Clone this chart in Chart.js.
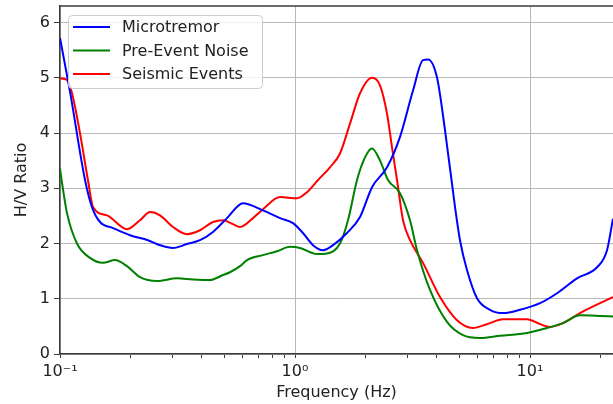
<!DOCTYPE html>
<html>
<head>
<meta charset="utf-8">
<script src="https://cdn.jsdelivr.net/npm/chart.js@4.4.1/dist/chart.umd.min.js"></script>
<style>
    html, body { margin: 0; padding: 0; background: #fff; overflow: hidden; }
    #wrap { width: 613px; height: 404px; }
</style>
</head>
<body>
<div id="wrap"><canvas id="chart-hv"></canvas></div>
<script>
// H/V spectral ratio curves
const MICRO_FREQ = [0.1, 0.1103, 0.1278, 0.1368, 0.148, 0.1681, 0.1986, 0.2368, 0.2664, 0.3026, 0.347, 0.3941,
    0.4476, 0.5136, 0.6008, 0.7308, 0.8634, 0.9806, 1.081, 1.193, 1.316, 1.451, 1.664, 1.891, 2.127, 2.464, 2.798,
    3.178, 3.505, 3.681, 4.022, 4.349, 4.797, 5.036, 5.393, 5.95, 6.756, 7.677, 9.068, 11.03, 13.03, 15.85, 19.28,
    21.27, 22.55];
const MICRO_HV = [5.72, 4.75, 3.15, 2.66, 2.39, 2.28, 2.15, 2.06, 1.97, 1.92, 1.99, 2.06,
    2.21, 2.46, 2.73, 2.60, 2.46, 2.37, 2.19, 1.97, 1.88, 1.97, 2.19, 2.48, 3.02, 3.38, 3.93,
    4.77, 5.32, 5.33, 5.00, 4.05, 2.66, 2.06, 1.52, 1.01, 0.80, 0.74, 0.80, 0.92, 1.10, 1.37, 1.57,
    1.88, 2.45];

const NOISE_FREQ = [0.1, 0.102, 0.1071, 0.1181, 0.1342, 0.1524, 0.1714, 0.1928, 0.219, 0.2587, 0.3147, 0.3681,
    0.4346, 0.4938, 0.5288, 0.5834, 0.6248, 0.7308, 0.8384, 0.9522, 1.05, 1.241, 1.368, 1.554, 1.681, 1.836, 1.986,
    2.127, 2.301, 2.488, 2.798, 3.086, 3.305, 3.754, 4.435, 5.186, 6.127, 7.454, 9.71, 11.81, 13.82, 16.32, 19.86,
    22.55];
const NOISE_HV = [3.36, 3.10, 2.55, 2.00, 1.74, 1.65, 1.70, 1.59, 1.39, 1.32, 1.37, 1.35,
    1.34, 1.43, 1.48, 1.59, 1.70, 1.79, 1.86, 1.94, 1.92, 1.81, 1.82, 2.00, 2.42, 3.15, 3.56,
    3.72, 3.50, 3.15, 2.91, 2.42, 1.88, 1.16, 0.58, 0.34, 0.29, 0.33, 0.38, 0.47, 0.56, 0.70, 0.69,
    0.68];

const EVENT_FREQ = [0.1, 0.1071, 0.1125, 0.1216, 0.1315, 0.1382, 0.1585, 0.1928, 0.219, 0.2415, 0.2664, 0.3026,
    0.347, 0.3941, 0.4476, 0.4938, 0.5446, 0.5834, 0.6626, 0.7308, 0.8634, 1.02, 1.125, 1.253, 1.409, 1.554, 1.714,
    1.891, 2.127, 2.301, 2.464, 2.587, 2.717, 2.882, 3.086, 3.505, 4.141, 4.892, 5.72, 6.561, 7.677, 9.71, 11.03,
    12.17, 13.82, 16.32, 19.86, 22.55];
const EVENT_HV = [4.99, 4.96, 4.72, 4.00, 3.15, 2.66, 2.51, 2.26, 2.42, 2.57, 2.51, 2.30,
    2.17, 2.24, 2.39, 2.42, 2.35, 2.30, 2.46, 2.62, 2.84, 2.82, 2.93, 3.15, 3.38, 3.63, 4.17,
    4.72, 5.00, 4.86, 4.35, 3.74, 3.15, 2.42, 2.06, 1.65, 1.03, 0.61, 0.47, 0.54, 0.63, 0.63, 0.54,
    0.49, 0.56, 0.74, 0.92, 1.03];

const SERIES_NAMES = ['Microtremor', 'Pre-Event Noise', 'Seismic Events'];
const SERIES_COLORS = ['#0000ff', '#008000', '#ff0000'];

const X_MIN = 0.1;
const X_MAX = 22.55;
const Y_MIN = 0;
const Y_MAX = 6.3;
const MAJOR_TICKS = [0.1, 1, 10];
const MAJOR_LABELS = ['10\u207B\u00B9', '10\u2070', '10\u00B9'];
const MINOR_TICKS = [0.2, 0.3, 0.4, 0.5, 0.6, 0.7, 0.8, 0.9, 2, 3, 4, 5, 6, 7, 8, 9, 20];

const FONT = { family: "'DejaVu Sans', sans-serif", size: 16 };
const TEXT = '#222';
const GRID = '#b8b8b8';
const SPINE = '#3a3a3a';

function toPoints(xs, ys) {
    return xs.map((x, i) => ({ x, y: ys[i] }));
}

// top spine (matplotlib frame); right one falls outside the crop
const framePlugin = {
    id: 'frame',
    afterDatasetsDraw(chart) {
        const { ctx, chartArea } = chart;
        ctx.save();
        ctx.strokeStyle = SPINE;
        ctx.lineWidth = 1.5;
        ctx.beginPath();
        ctx.moveTo(chartArea.left, chartArea.top);
        ctx.lineTo(chartArea.right, chartArea.top);
        ctx.stroke();
        ctx.restore();
    },
};

// legend box in the upper-left corner, like matplotlib's
const legendPlugin = {
    id: 'innerLegend',
    afterDraw(chart) {
        const { ctx, chartArea } = chart;
        const x0 = chartArea.left + 8, y0 = chartArea.top + 9;
        const w = 194, rowH = 23.5, h = 73;
        ctx.save();
        ctx.fillStyle = 'rgba(255,255,255,0.8)';
        ctx.strokeStyle = '#cccccc';
        ctx.lineWidth = 1;
        ctx.beginPath();
        ctx.roundRect(x0 + 0.5, y0 + 0.5, w, h, 4);
        ctx.fill();
        ctx.stroke();
        ctx.font = `${FONT.size}px ${FONT.family}`;
        ctx.textBaseline = 'middle';
        chart.data.datasets.forEach((ds, i) => {
            const y = y0 + 12 + i * rowH;
            ctx.strokeStyle = ds.borderColor;
            ctx.lineWidth = 2;
            ctx.beginPath();
            ctx.moveTo(x0 + 5, y);
            ctx.lineTo(x0 + 42, y);
            ctx.stroke();
            ctx.fillStyle = TEXT;
            ctx.fillText(ds.label, x0 + 54, y + 1);
        });
        ctx.restore();
    },
};

const datasets = [
    toPoints(MICRO_FREQ, MICRO_HV),
    toPoints(NOISE_FREQ, NOISE_HV),
    toPoints(EVENT_FREQ, EVENT_HV),
].map((pts, i) => ({
    label: SERIES_NAMES[i],
    data: pts,
    borderColor: SERIES_COLORS[i],
    backgroundColor: SERIES_COLORS[i],
    borderWidth: 2,
    pointRadius: 0,
    cubicInterpolationMode: 'monotone',
    fill: false,
}));

new Chart(document.getElementById('chart-hv'), {
    type: 'line',
    data: { datasets },
    options: {
        responsive: true,
        maintainAspectRatio: false,
        animation: false,
        layout: { padding: { top: 6, right: 0, bottom: 0, left: 0 } },
        plugins: { legend: { display: false }, tooltip: { enabled: false } },
        scales: {
            x: {
                type: 'logarithmic',
                min: X_MIN,
                max: X_MAX,
                afterBuildTicks(axis) {
                    axis.ticks = [...MAJOR_TICKS, ...MINOR_TICKS]
                        .sort((a, b) => a - b)
                        .map(v => ({ value: v, major: MAJOR_TICKS.includes(v) }));
                },
                afterFit(s) { s.height = 50; s.paddingLeft = 0; s.paddingRight = 0; },
                grid: {
                    color: c => (c.tick && MAJOR_TICKS.includes(c.tick.value) ? GRID : 'rgba(0,0,0,0)'),
                    tickColor: SPINE,
                    tickLength: 4,
                    lineWidth: 1,
                },
                border: { color: SPINE, width: 1.5 },
                ticks: {
                    autoSkip: false,
                    maxRotation: 0,
                    padding: 4,
                    color: TEXT,
                    font: FONT,
                    callback: v => {
                        const i = MAJOR_TICKS.indexOf(v);
                        return i >= 0 ? MAJOR_LABELS[i] : '';
                    },
                },
                title: { display: true, text: 'Frequency (Hz)', color: TEXT, font: FONT, padding: { top: 0, bottom: 2 } },
            },
            y: {
                min: Y_MIN,
                max: Y_MAX,
                afterFit(s) { s.width = 60; s.paddingTop = 0; s.paddingBottom = 0; },
                grid: { color: GRID, tickColor: SPINE, tickLength: 6, lineWidth: 1 },
                border: { color: SPINE, width: 1.5 },
                ticks: { stepSize: 1, includeBounds: false, padding: 4, color: TEXT, font: FONT },
                title: { display: true, text: 'H/V Ratio', color: TEXT, font: FONT, padding: { top: 12, bottom: 0 } },
            },
        },
    },
    plugins: [framePlugin, legendPlugin],
});
</script>
</body>
</html>
